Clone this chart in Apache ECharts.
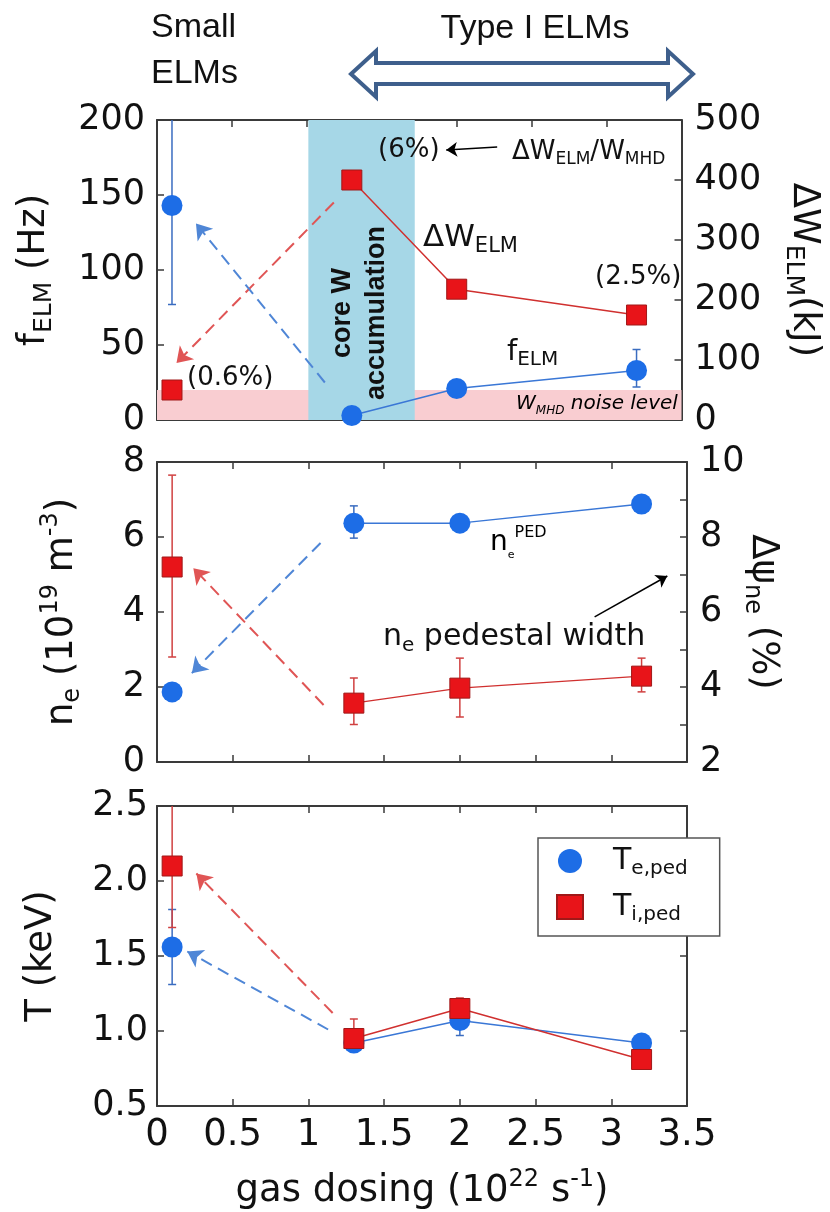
<!DOCTYPE html>
<html>
<head>
<meta charset="utf-8">
<script src="https://cdn.jsdelivr.net/npm/echarts@6/dist/echarts.min.js"></script>
<style>
  html, body { margin: 0; padding: 0; background: #fff; }
  #chart { width: 830px; height: 1212px; }
</style>
</head>
<body>
<div id="chart"></div>
<script>
// gas dosing (1e22 s^-1)
const gasSmall = 0.1;
const gasTypeI = [1.3, 2.0, 3.2];

// panel 1: f_ELM (Hz) and dW_ELM (kJ)
const fElmSmall = 143;
const fElmTypeI = [3, 21, 33];
const fElmErr = [[0.1, 77, 215], [3.2, 22, 47]];
const dWelmSmall = 50;
const dWelmTypeI = [400, 218, 175];
const coreWBand = [1.01, 1.72];
const noiseLevel = 20;

// panel 2: n_e pedestal (1e19 m^-3) and pedestal width (%)
const neSmall = 1.87;
const neTypeI = [6.37, 6.37, 6.88];
const neErr = [[1.3, 5.97, 6.83]];
const widthSmall = 7.2;
const widthTypeI = [3.57, 3.97, 4.29];
const widthErr = [[0.1, 4.8, 9.65], [1.3, 3.0, 4.24], [2.0, 3.2, 4.77], [3.2, 3.87, 4.77]];

// panel 3: pedestal temperatures (keV)
const teSmall = 1.56;
const teTypeI = [0.92, 1.07, 0.92];
const teErr = [[0.1, 1.31, 1.81], [2.0, 0.97, 1.1]];
const tiSmall = 2.1;
const tiTypeI = [0.95, 1.15, 0.81];
const tiErr = [[0.1, 1.69, 2.7], [1.3, 0.9, 1.08], [2.0, 1.08, 1.22]];

// dashed "trend" arrows, [from, to] in data coords
const arrowsP1 = { red: [[1.18, 145], [0.13, 38]], blue: [[1.12, 25], [0.26, 131]] };
const arrowsP2 = { red: [[1.10, 1.52], [0.24, 5.17]], blue: [[1.08, 5.84], [0.23, 2.37]] };
const arrowsP3 = { red: [[1.16, 1.12], [0.26, 2.05]], blue: [[1.13, 1.01], [0.20, 1.53]] };
const noteArrowP1 = [[2.27, 182], [1.93, 180]];
const noteArrowP2 = [[2.89, 3.87], [3.37, 4.96]];

const FONT = "DejaVu Sans";
const HEAD_FONT = "Liberation Sans";
const RED = "#e81419";
const RED_LINE = "#d0302f";
const RED_DASH = "#e05555";
const BLUE = "#1d6de6";
const BLUE_LINE = "#3a77d6";
const BLUE_DASH = "#4f86d6";
const AXIS = "#3a3a3a";

const pts = (xs, ys) => xs.map((x, i) => [x, ys[i]]);

const richTxt = (size, sub, font) => ({
  m: { fontFamily: font || FONT, fontSize: size, lineHeight: Math.round(size * 1.25), color: "#111" },
  s: { fontFamily: font || FONT, fontSize: sub, lineHeight: sub, verticalAlign: "bottom", color: "#111" },
  p: { fontFamily: font || FONT, fontSize: sub, lineHeight: sub, verticalAlign: "top", color: "#111" },
});

const grids = [
  { left: 157, top: 120, width: 530, height: 300 },
  { left: 157, top: 462, width: 530, height: 300 },
  { left: 157, top: 806, width: 530, height: 300 },
];

const tick = { show: true, inside: true, length: 7, lineStyle: { color: AXIS, width: 1.5 } };
const line = { show: true, onZero: false, lineStyle: { color: AXIS, width: 2 } };

const xAxes = [];
grids.forEach((g, i) => {
  const last = i === 2;
  xAxes.push({
    type: "value", gridIndex: i, min: 0, max: 3.5, interval: 0.5, position: "bottom",
    axisLine: line, axisTick: tick, splitLine: { show: false },
    axisLabel: { show: last, margin: 11, fontFamily: FONT, fontSize: 37, color: "#111" },
    name: last ? "{m|gas dosing (10}{p|22}{m| s}{p|-1}{m|)}" : "",
    nameLocation: "middle", nameGap: 62, nameMoveOverlap: false,
    nameTextStyle: { rich: richTxt(37, 24) },
  });
  xAxes.push({
    type: "value", gridIndex: i, min: 0, max: 3.5, interval: 0.5, position: "top",
    axisLine: line, axisTick: tick, axisLabel: { show: false }, splitLine: { show: false },
  });
});

const yLabel = { fontFamily: FONT, fontSize: 35, color: "#111" };
const yAxes = [
  {
    type: "value", gridIndex: 0, min: 0, max: 200, interval: 50, position: "left",
    axisLine: line, axisTick: tick, splitLine: { show: false },
    axisLabel: Object.assign({ margin: 12 }, yLabel),
    name: "{m|f}{s|ELM}{m| (Hz)}", nameLocation: "middle", nameGap: 100, nameMoveOverlap: false,
    nameTextStyle: { rich: richTxt(37, 25) },
  },
  {
    type: "value", gridIndex: 0, min: 0, max: 500, interval: 100, position: "right",
    axisLine: line, axisTick: tick, splitLine: { show: false },
    axisLabel: Object.assign({ margin: 13 }, yLabel),
    name: "{m|ΔW}{s|ELM}{m|(kJ)}", nameLocation: "middle", nameGap: 99, nameRotate: -90,
    nameMoveOverlap: false,
    nameTextStyle: { rich: richTxt(37, 25) },
  },
  {
    type: "value", gridIndex: 1, min: 0, max: 8, interval: 2, position: "left",
    axisLine: line, axisTick: tick, splitLine: { show: false },
    axisLabel: Object.assign({ margin: 12 }, yLabel),
    name: "{m|n}{s|e}{m| (10}{p|19}{m| m}{p|-3}{m|)}", nameLocation: "middle", nameGap: 72,
    nameMoveOverlap: false,
    nameTextStyle: { rich: richTxt(37, 24) },
  },
  {
    type: "value", gridIndex: 1, min: 2, max: 10, interval: 1, position: "right",
    axisLine: line, axisTick: tick, splitLine: { show: false },
    axisLabel: Object.assign({ margin: 13, formatter: (v) => (v % 2 === 0 ? v : "") }, yLabel),
    name: "{m|Δψ}{s|ne}{m| (%)}", nameLocation: "middle", nameGap: 53, nameRotate: -90,
    nameMoveOverlap: false,
    nameTextStyle: { rich: richTxt(37, 24) },
  },
  {
    type: "value", gridIndex: 2, min: 0.5, max: 2.5, interval: 0.5, position: "left",
    axisLine: line, axisTick: tick, splitLine: { show: false },
    axisLabel: Object.assign({ margin: 9, formatter: (v) => v.toFixed(1) }, yLabel),
    name: "{m|T (keV)}", nameLocation: "middle", nameGap: 93, nameMoveOverlap: false,
    nameTextStyle: { rich: richTxt(37, 24) },
  },
  {
    type: "value", gridIndex: 2, min: 0.5, max: 2.5, interval: 0.5, position: "right",
    axisLine: line, axisTick: tick, splitLine: { show: false }, axisLabel: { show: false },
  },
];

function errorBars(data, xi, yi, color) {
  return {
    type: "custom", xAxisIndex: xi, yAxisIndex: yi, clip: true, silent: true, z: 3,
    encode: { x: 0, y: [1, 2] },
    data: data,
    renderItem(params, api) {
      const x = api.value(0);
      const a = api.coord([x, api.value(1)]);
      const b = api.coord([x, api.value(2)]);
      const st = { stroke: color, lineWidth: 1.5 };
      return {
        type: "group",
        children: [
          { type: "line", shape: { x1: a[0], y1: a[1], x2: b[0], y2: b[1] }, style: st },
          { type: "line", shape: { x1: a[0] - 4, y1: a[1], x2: a[0] + 4, y2: a[1] }, style: st },
          { type: "line", shape: { x1: b[0] - 4, y1: b[1], x2: b[0] + 4, y2: b[1] }, style: st },
        ],
      };
    },
  };
}

function markers(name, xi, yi, small, typeI, isRed) {
  const sym = isRed ? "rect" : "circle";
  const size = isRed ? 20 : 21;
  const item = isRed
    ? { color: RED, borderColor: "#a01818", borderWidth: 1, opacity: 1 }
    : { color: BLUE, opacity: 1 };
  return [
    {
      name, type: "line", xAxisIndex: xi, yAxisIndex: yi, z: 5,
      data: pts(gasTypeI, typeI), symbol: sym, symbolSize: size, showSymbol: true,
      itemStyle: item, lineStyle: { color: isRed ? RED_LINE : BLUE_LINE, width: 1.5 },
    },
    {
      name, type: "scatter", xAxisIndex: xi, yAxisIndex: yi, z: 5,
      data: [[gasSmall, small]], symbol: sym, symbolSize: size, itemStyle: item,
    },
  ];
}

function arrow(coords, xi, yi, color, dashed) {
  return {
    type: "lines", coordinateSystem: "cartesian2d", xAxisIndex: xi, yAxisIndex: yi, z: 4,
    silent: true, symbol: ["none", "arrow"], symbolSize: dashed ? 15 : 11,
    lineStyle: { color, width: dashed ? 2 : 1.5, type: dashed ? [12, 7] : "solid", opacity: 1 },
    data: [{ coords }],
  };
}

const series = [
  {
    type: "line", xAxisIndex: 0, yAxisIndex: 0, z: 1, data: [], silent: true,
    markArea: {
      silent: true,
      data: [
        [{ xAxis: 0, yAxis: 0, itemStyle: { color: "#f9cdd1" } }, { xAxis: 3.5, yAxis: noiseLevel }],
        [{ xAxis: coreWBand[0], itemStyle: { color: "#a6d7e7" } }, { xAxis: coreWBand[1] }],
      ],
    },
  },
  errorBars(fElmErr, 0, 0, "#3a6cc0"),
  ...markers("fElm", 0, 0, fElmSmall, fElmTypeI, false),
  ...markers("dWelm", 0, 1, dWelmSmall, dWelmTypeI, true),
  arrow(arrowsP1.red, 0, 0, RED_DASH, true),
  arrow(arrowsP1.blue, 0, 0, BLUE_DASH, true),
  arrow(noteArrowP1, 0, 0, "#000", false),

  errorBars(neErr, 2, 2, "#3a6cc0"),
  errorBars(widthErr, 2, 3, "#d04040"),
  ...markers("ne", 2, 2, neSmall, neTypeI, false),
  ...markers("width", 2, 3, widthSmall, widthTypeI, true),
  arrow(arrowsP2.red, 2, 2, RED_DASH, true),
  arrow(arrowsP2.blue, 2, 2, BLUE_DASH, true),
  arrow(noteArrowP2, 2, 2, "#000", false),

  errorBars(teErr, 4, 4, "#3a6cc0"),
  errorBars(tiErr, 4, 4, "#d04040"),
  ...markers("Te", 4, 4, teSmall, teTypeI, false),
  ...markers("Ti", 4, 4, tiSmall, tiTypeI, true),
  arrow(arrowsP3.red, 4, 4, RED_DASH, true),
  arrow(arrowsP3.blue, 4, 4, BLUE_DASH, true),
];

function label(x, y, text, size, sub, font, align) {
  return {
    type: "text", x, y, z: 20,
    style: {
      text, fontFamily: font || FONT, fontSize: size, fill: "#111",
      align: align || "left", verticalAlign: "middle", rich: richTxt(size, sub, font),
    },
  };
}

const graphics = [
  label(151, 28, "Small", 34, 22, HEAD_FONT),
  label(151, 74, "ELMs", 34, 22, HEAD_FONT),
  label(535, 29, "Type I ELMs", 34, 22, HEAD_FONT, "center"),
  {
    type: "polygon", z: 20,
    shape: {
      points: [[351, 74], [376, 51], [376, 63], [668, 63], [668, 51], [693, 74],
               [668, 97], [668, 84], [376, 84], [376, 97]],
    },
    style: { fill: "#fff", stroke: "#3e5f8c", lineWidth: 4, lineJoin: "miter" },
  },
  label(378, 150, "(6%)", 26, 18),
  label(512, 152, "{m|ΔW}{s|ELM}{m|/W}{s|MHD}", 26, 17),
  label(423, 238, "{m|ΔW}{s|ELM}", 31, 21),
  label(595, 277, "(2.5%)", 26, 18),
  label(507, 352, "{m|f}{s|ELM}", 29, 20),
  label(187, 378, "(0.6%)", 26, 18),
  {
    type: "text", x: 516, y: 404, z: 20,
    style: {
      text: "{m|W}{s|MHD}{m| noise level}", align: "left", verticalAlign: "middle",
      rich: {
        m: { fontFamily: FONT, fontStyle: "italic", fontSize: 20, lineHeight: 25, color: "#444" },
        s: { fontFamily: FONT, fontStyle: "italic", fontSize: 12, lineHeight: 12, verticalAlign: "bottom", color: "#444" },
      },
    },
  },
  {
    type: "text", x: 360, y: 313, z: 20, rotation: Math.PI / 2,
    style: {
      text: "core W\naccumulation", fontFamily: HEAD_FONT, fontWeight: "bold", fontSize: 27,
      lineHeight: 34, fill: "#111", align: "center", verticalAlign: "middle",
    },
  },
  {
    type: "text", x: 490, y: 543, z: 20,
    style: {
      text: "{m|n}{s|e}{p|PED}", align: "left", verticalAlign: "middle",
      rich: {
        m: { fontFamily: FONT, fontSize: 28, lineHeight: 36, color: "#111" },
        s: { fontFamily: FONT, fontSize: 11, lineHeight: 11, verticalAlign: "bottom", color: "#111" },
        p: { fontFamily: FONT, fontSize: 16, lineHeight: 16, verticalAlign: "top", color: "#111" },
      },
    },
  },
  label(383, 637, "{m|n}{s|e}{m| pedestal width}", 30, 20),
];

const legendRich = {
  m: { fontFamily: FONT, fontSize: 30, lineHeight: 36, color: "#111", padding: [0, 0, 0, 25] },
  s: { fontFamily: FONT, fontSize: 20, lineHeight: 20, verticalAlign: "bottom", color: "#111" },
};

const option = {
  animation: false,
  backgroundColor: "#fff",
  grid: grids,
  xAxis: xAxes,
  yAxis: yAxes,
  legend: {
    orient: "vertical", left: 538, top: 838,
    padding: [8, 32, 11, 18], itemGap: 13, itemWidth: 26, itemHeight: 24,
    borderColor: "#555", borderWidth: 1.5, borderRadius: 0, backgroundColor: "#fff",
    selectedMode: false,
    data: [
      { name: "Te", icon: "circle", itemStyle: { color: BLUE } },
      { name: "Ti", icon: "rect", itemStyle: { color: RED } },
    ],
    formatter: (n) => (n === "Te" ? "{m|T}{s|e,ped}" : "{m|T}{s|i,ped}"),
    textStyle: { rich: legendRich },
  },
  graphic: graphics,
  series: series,
};

const chart = echarts.init(document.getElementById("chart"));
chart.setOption(option);
</script>
</body>
</html>
